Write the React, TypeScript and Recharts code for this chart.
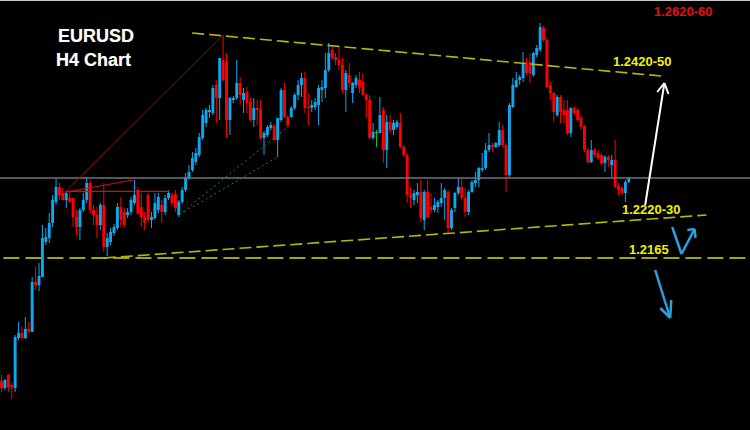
import React from 'react';
import { ComposedChart, Bar, XAxis, YAxis, ReferenceLine } from 'recharts';

// EURUSD H4 candles, oldest first
const opens = [
  1.19805, 1.19700, 1.19895, 1.19745, 1.19700, 1.20450, 1.20525, 1.20450, 1.20585, 1.20540,
  1.21290, 1.21245, 1.21365, 1.21890, 1.21950, 1.22175, 1.22490, 1.22715, 1.22625, 1.22520,
  1.22550, 1.22550, 1.22265, 1.22115, 1.22370, 1.22520, 1.22775, 1.22370, 1.22295, 1.22145,
  1.22445, 1.21815, 1.21890, 1.22025, 1.22100, 1.22415, 1.22340, 1.22295, 1.22340, 1.22475,
  1.22670, 1.22415, 1.22265, 1.22595, 1.22220, 1.22250, 1.22370, 1.22445, 1.22340, 1.22550,
  1.22595, 1.22610, 1.22295, 1.22490, 1.22670, 1.22850, 1.22970, 1.23090, 1.23195, 1.23450,
  1.23675, 1.23840, 1.23825, 1.24245, 1.24050, 1.24620, 1.24590, 1.23720, 1.24020, 1.24050,
  1.24275, 1.24020, 1.24140, 1.23990, 1.23720, 1.23900, 1.23870, 1.23450, 1.23495, 1.23600,
  1.23630, 1.23420, 1.23720, 1.24170, 1.23765, 1.23765, 1.23900, 1.24095, 1.24245, 1.24350,
  1.23915, 1.23900, 1.23915, 1.23945, 1.24170, 1.24200, 1.24470, 1.24770, 1.24665, 1.24620,
  1.24545, 1.24170, 1.24395, 1.24125, 1.24245, 1.24320, 1.24290, 1.24095, 1.24020, 1.23450,
  1.23540, 1.23525, 1.23870, 1.23270, 1.23690, 1.23570, 1.23615, 1.23675, 1.23315, 1.23195,
  1.22595, 1.22520, 1.22595, 1.22640, 1.22220, 1.22640, 1.22415, 1.22370, 1.22415, 1.22475,
  1.22550, 1.22640, 1.22100, 1.22400, 1.22625, 1.22715, 1.22550, 1.22340, 1.22640, 1.22775,
  1.22820, 1.22970, 1.23000, 1.23270, 1.23345, 1.23315, 1.23345, 1.23570, 1.23345, 1.22895,
  1.23915, 1.24215, 1.24320, 1.24350, 1.24575, 1.24590, 1.24395, 1.24695, 1.24770, 1.25100,
  1.24920, 1.24245, 1.24125, 1.23795, 1.24065, 1.23870, 1.23870, 1.23525, 1.23900, 1.23870,
  1.23750, 1.23630, 1.23270, 1.23090, 1.23270, 1.23225, 1.23195, 1.23075, 1.23165, 1.23045,
  1.23120, 1.22715, 1.22700, 1.22625, 1.22790,
];

const closes = [
  1.19700, 1.19820, 1.19715, 1.19715, 1.20465, 1.20525, 1.20450, 1.20585, 1.20555, 1.21290,
  1.21245, 1.21380, 1.21950, 1.21965, 1.22175, 1.22520, 1.22715, 1.22595, 1.22520, 1.22625,
  1.22490, 1.22265, 1.22115, 1.22370, 1.22520, 1.22775, 1.22370, 1.22295, 1.22145, 1.22445,
  1.21815, 1.21950, 1.22040, 1.22115, 1.22415, 1.22220, 1.22145, 1.22340, 1.22520, 1.22595,
  1.22325, 1.22265, 1.22175, 1.22220, 1.22265, 1.22475, 1.22565, 1.22340, 1.22550, 1.22625,
  1.22475, 1.22400, 1.22490, 1.22670, 1.22865, 1.22940, 1.23150, 1.23225, 1.23465, 1.23795,
  1.23870, 1.23870, 1.24200, 1.24050, 1.24650, 1.24320, 1.23720, 1.24050, 1.24050, 1.24275,
  1.24095, 1.24125, 1.23975, 1.23720, 1.23900, 1.23870, 1.23450, 1.23525, 1.23615, 1.23645,
  1.23420, 1.23750, 1.24170, 1.23765, 1.23645, 1.23900, 1.24095, 1.24245, 1.24350, 1.23900,
  1.23900, 1.23945, 1.23990, 1.24200, 1.24215, 1.24470, 1.24725, 1.24650, 1.24620, 1.24545,
  1.24170, 1.24425, 1.24275, 1.24275, 1.24350, 1.24215, 1.24095, 1.24020, 1.23450, 1.23540,
  1.23540, 1.23795, 1.23270, 1.23690, 1.23570, 1.23675, 1.23690, 1.23315, 1.23195, 1.22595,
  1.22550, 1.22625, 1.22640, 1.22250, 1.22640, 1.22265, 1.22370, 1.22445, 1.22490, 1.22550,
  1.22670, 1.22100, 1.22370, 1.22625, 1.22715, 1.22550, 1.22340, 1.22640, 1.22790, 1.22820,
  1.23000, 1.23000, 1.23270, 1.23345, 1.23315, 1.23375, 1.23570, 1.23345, 1.22895, 1.23945,
  1.24245, 1.24320, 1.24365, 1.24575, 1.24425, 1.24425, 1.24725, 1.24800, 1.25115, 1.24920,
  1.24215, 1.24125, 1.23840, 1.24065, 1.23840, 1.23795, 1.23525, 1.23900, 1.23825, 1.23720,
  1.23615, 1.23270, 1.23090, 1.23270, 1.23195, 1.23150, 1.23075, 1.23165, 1.23120, 1.23120,
  1.22715, 1.22670, 1.22625, 1.22790, 1.22850,
];

const highs = [
  1.19895, 1.19835, 1.19910, 1.19775, 1.20495, 1.20690, 1.20615, 1.20765, 1.20690, 1.21365,
  1.21515, 1.21575, 1.22145, 1.22100, 1.22325, 1.22595, 1.22835, 1.22775, 1.22700, 1.22640,
  1.22640, 1.22550, 1.22370, 1.22400, 1.22625, 1.22850, 1.22820, 1.22445, 1.22415, 1.22475,
  1.22775, 1.22025, 1.22100, 1.22160, 1.22475, 1.22565, 1.22400, 1.22400, 1.22565, 1.22820,
  1.22715, 1.22625, 1.22340, 1.22625, 1.22340, 1.22625, 1.22625, 1.22520, 1.22595, 1.22670,
  1.22625, 1.22670, 1.22520, 1.22715, 1.22925, 1.23045, 1.23240, 1.23300, 1.23525, 1.23870,
  1.23900, 1.23945, 1.24245, 1.24320, 1.24650, 1.24995, 1.24725, 1.24065, 1.24080, 1.24620,
  1.24365, 1.24200, 1.24215, 1.24065, 1.24050, 1.24020, 1.24020, 1.23555, 1.23645, 1.23690,
  1.23660, 1.23750, 1.24200, 1.24275, 1.23795, 1.23930, 1.24125, 1.24320, 1.24425, 1.24440,
  1.24125, 1.24020, 1.24050, 1.24245, 1.24320, 1.24725, 1.24875, 1.24845, 1.24725, 1.24815,
  1.24650, 1.24470, 1.24575, 1.24290, 1.24395, 1.24440, 1.24425, 1.24125, 1.24095, 1.23675,
  1.23570, 1.24065, 1.23915, 1.23795, 1.23795, 1.23720, 1.23720, 1.23825, 1.23345, 1.23225,
  1.22715, 1.22670, 1.22775, 1.22820, 1.22670, 1.22820, 1.22625, 1.22550, 1.22520, 1.22775,
  1.22700, 1.22670, 1.22400, 1.22640, 1.22850, 1.22850, 1.22700, 1.22670, 1.22820, 1.22940,
  1.23015, 1.23225, 1.23375, 1.23525, 1.23375, 1.23390, 1.23690, 1.23645, 1.23375, 1.23975,
  1.24350, 1.24440, 1.24395, 1.24740, 1.24650, 1.24725, 1.24740, 1.24845, 1.25175, 1.25130,
  1.24950, 1.24290, 1.24140, 1.24095, 1.24095, 1.24020, 1.24020, 1.23915, 1.23930, 1.23900,
  1.23795, 1.23645, 1.23300, 1.23420, 1.23300, 1.23270, 1.23225, 1.23195, 1.23195, 1.23195,
  1.23420, 1.22775, 1.22730, 1.22820, 1.22865,
];

const lows = [
  1.19640, 1.19670, 1.19640, 1.19535, 1.19640, 1.20420, 1.20420, 1.20435, 1.20525, 1.20540,
  1.21170, 1.21155, 1.21365, 1.21845, 1.21875, 1.22115, 1.22445, 1.22520, 1.22520, 1.22400,
  1.22475, 1.22115, 1.21995, 1.21920, 1.22340, 1.22475, 1.22325, 1.22145, 1.21950, 1.22070,
  1.21740, 1.21680, 1.21845, 1.21980, 1.22070, 1.22115, 1.22100, 1.22250, 1.22295, 1.22445,
  1.22295, 1.22115, 1.22070, 1.22190, 1.22100, 1.22220, 1.22325, 1.22175, 1.22295, 1.22520,
  1.22430, 1.22340, 1.22265, 1.22460, 1.22640, 1.22820, 1.22940, 1.23045, 1.23165, 1.23420,
  1.23615, 1.23750, 1.23795, 1.23675, 1.23720, 1.24290, 1.23450, 1.23495, 1.23975, 1.24020,
  1.23945, 1.23825, 1.23825, 1.23690, 1.23615, 1.23645, 1.23420, 1.23195, 1.23465, 1.23570,
  1.23405, 1.23165, 1.23690, 1.23750, 1.23600, 1.23750, 1.23870, 1.24020, 1.24065, 1.23825,
  1.23645, 1.23840, 1.23870, 1.23645, 1.23990, 1.24050, 1.24440, 1.24620, 1.24545, 1.24470,
  1.24125, 1.23840, 1.24200, 1.23975, 1.24200, 1.24125, 1.24095, 1.23750, 1.23420, 1.23420,
  1.23315, 1.23525, 1.23075, 1.23000, 1.23525, 1.23495, 1.23585, 1.23300, 1.23165, 1.22475,
  1.22400, 1.22445, 1.22475, 1.22190, 1.22070, 1.22250, 1.22325, 1.22340, 1.22325, 1.22415,
  1.22220, 1.22025, 1.22070, 1.22340, 1.22595, 1.22520, 1.22265, 1.22295, 1.22625, 1.22715,
  1.22715, 1.22940, 1.22970, 1.23240, 1.23240, 1.23300, 1.23315, 1.23315, 1.22640, 1.22865,
  1.23900, 1.24200, 1.24245, 1.24290, 1.24395, 1.24275, 1.24365, 1.24665, 1.24740, 1.24890,
  1.24200, 1.24020, 1.23690, 1.23765, 1.23675, 1.23675, 1.23495, 1.23465, 1.23795, 1.23690,
  1.23570, 1.23240, 1.23060, 1.23075, 1.23165, 1.23120, 1.23045, 1.22940, 1.23015, 1.22865,
  1.22700, 1.22595, 1.22595, 1.22490, 1.22775,
];

// levels and drawn tools, as [bar index, price]
const lastPrice = 1.2285;
const upperTrend = [[56.1, 1.25025], [193.1, 1.2438]];
const lowerTrend = [[30.3, 1.2165], [206.3, 1.22295]];
const supportLine = [[1.0, 1.2165], [219.5, 1.2165]];
const swingLine = [[18.6, 1.22625], [65.2, 1.24995]];
const redSlant = [[19.4, 1.2264], [38.8, 1.2282]];
const redFlat = [[19.2, 1.22648], [49.4, 1.22648]];
const greenA = [[52.3, 1.22295], [84.0, 1.23615]];
const greenB = [[53.8, 1.2234], [81.05, 1.23165]];
const whiteArrow = [[188.4, 1.22445], [194.0, 1.24275]];
const whiteHead = [[191.9, 1.2414], [194.0, 1.24275], [195.2, 1.2411]];
const bounceArrow = [[196.3, 1.22115], [199.0, 1.2171], [202.8, 1.22085]];
const bounceHead = [[200.7, 1.2207], [202.8, 1.22085], [203.1, 1.2195]];
const dropArrow = [[191.3, 1.2147], [195.7, 1.2075]];
const dropHead = [[192.8, 1.209], [195.7, 1.2075], [196.0, 1.2102]];

const targetLabels = ['1.2620-60', '1.2420-50', '1.2220-30', '1.2165'];

const SLOTS = 220;
const PRICE_MIN = 1.1907;
const PRICE_MAX = 1.2552;

const BLUE = '#0ea8f0';
const RED = '#ff0000';
const GREEN = '#16c016';
const YELLOW = '#f2f200';

const rows = Array.from({ length: SLOTS }, (_, i) =>
  i < opens.length
    ? { slot: i, open: opens[i], high: highs[i], low: lows[i], close: closes[i] }
    : { slot: i }
);

const Candle = (props: any) => {
  const { x, y, width, height, payload } = props;
  if (!payload || payload.open == null || !isFinite(y) || !isFinite(height)) return <g />;
  const { open, close, high, low } = payload;
  const top = Math.min(y, y + height);
  const h = Math.abs(height);
  const k = high > low ? h / (high - low) : 0;
  const py = (v: number) => top + (high - v) * k;
  const cx = x + width / 2;
  const color = close > open ? BLUE : close < open ? RED : GREEN;
  const bTop = py(Math.max(open, close));
  const bBot = py(Math.min(open, close));
  const bw = 2.9;
  return (
    <g>
      <line x1={cx} x2={cx} y1={top} y2={top + h} stroke={color} strokeWidth={1} />
      <rect x={cx - bw / 2} y={bTop} width={bw} height={Math.max(bBot - bTop, 1)} fill={color} />
    </g>
  );
};

const seg = (pts: number[][]) => pts.map(([x, y]) => ({ x, y }));

const lines = (pts: number[][], props: any, key: string) =>
  pts.slice(1).map((p, i) => (
    <ReferenceLine
      key={key + i}
      xAxisId="t"
      segment={seg([pts[i], p])}
      ifOverflow="visible"
      {...props}
    />
  ));

const labelStyle: React.CSSProperties = {
  position: 'absolute',
  fontFamily: '"Liberation Sans", Arial, sans-serif',
  fontWeight: 'bold',
  fontSize: 13,
  lineHeight: 1,
  whiteSpace: 'nowrap',
};

const titleStyle: React.CSSProperties = {
  ...labelStyle,
  fontSize: 18,
  color: '#ffffff',
  textShadow: '0 0 1px #666',
};

const App: React.FC = () => {
  return (
    <div style={{ position: 'absolute', left: 0, top: 0, width: 750, height: 430, background: '#000', overflow: 'hidden' }}>
      <ComposedChart
        width={750}
        height={430}
        data={rows}
        margin={{ top: 0, right: 0, bottom: 0, left: 0 }}
        barCategoryGap={0}
      >
        <XAxis hide dataKey="slot" type="category" />
        <XAxis hide xAxisId="t" type="number" domain={[-0.5, SLOTS - 0.5]} allowDataOverflow />
        <YAxis hide type="number" domain={[PRICE_MIN, PRICE_MAX]} allowDataOverflow />

        <ReferenceLine y={lastPrice} stroke="#6c7480" strokeWidth={1.5} />
        {lines(supportLine, { stroke: '#a3a314', strokeWidth: 2, strokeDasharray: '16 6' }, 'sup')}
        {lines(swingLine, { stroke: '#8e0c0c', strokeWidth: 1 }, 'sw')}
        {lines(redSlant, { stroke: '#c81010', strokeWidth: 1.2 }, 'rs')}
        {lines(redFlat, { stroke: '#d01010', strokeWidth: 1.2 }, 'rf')}
        {lines(greenA, { stroke: '#1d8a1d', strokeWidth: 1, strokeDasharray: '2 3' }, 'ga')}
        {lines(greenB, { stroke: '#1d8a1d', strokeWidth: 1, strokeDasharray: '2 3' }, 'gb')}

        <Bar
          dataKey={(d: any) => (d.open == null ? null : [d.low, d.high])}
          shape={Candle}
          isAnimationActive={false}
        />

        {lines(upperTrend, { stroke: '#b8b800', strokeWidth: 1.6, strokeDasharray: '12 5' }, 'ut')}
        {lines(lowerTrend, { stroke: '#b8b800', strokeWidth: 1.6, strokeDasharray: '12 5' }, 'lt')}
        {lines(whiteArrow, { stroke: '#ffffff', strokeWidth: 2 }, 'wa')}
        {lines(whiteHead, { stroke: '#ffffff', strokeWidth: 2 }, 'wh')}
        {lines(bounceArrow, { stroke: '#2aa0e0', strokeWidth: 2.5 }, 'ba')}
        {lines(bounceHead, { stroke: '#2aa0e0', strokeWidth: 2.5 }, 'bh')}
        {lines(dropArrow, { stroke: '#2aa0e0', strokeWidth: 2.5 }, 'da')}
        {lines(dropHead, { stroke: '#2aa0e0', strokeWidth: 2.5 }, 'dh')}
      </ComposedChart>

      <div style={{ position: 'absolute', left: 0, top: 0, width: 750, height: 1, background: '#c8c8c8' }} />
      <div style={{ ...titleStyle, left: 58, top: 27 }}>EURUSD</div>
      <div style={{ ...titleStyle, left: 56, top: 51 }}>H4 Chart</div>
      <div style={{ ...labelStyle, left: 654, top: 5, color: '#e01010' }}>{targetLabels[0]}</div>
      <div style={{ ...labelStyle, left: 613, top: 55, color: YELLOW }}>{targetLabels[1]}</div>
      <div style={{ ...labelStyle, left: 622, top: 203, color: YELLOW }}>{targetLabels[2]}</div>
      <div style={{ ...labelStyle, left: 629, top: 243, color: YELLOW }}>{targetLabels[3]}</div>
    </div>
  );
};

export default App;
